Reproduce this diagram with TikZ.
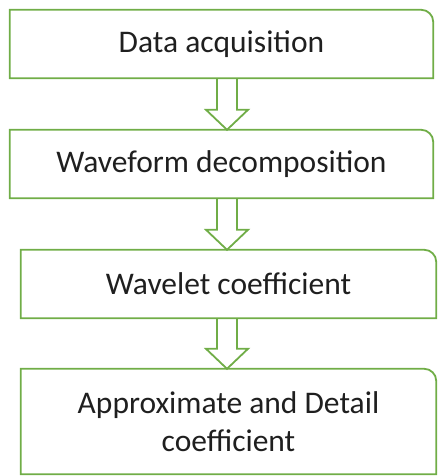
\documentclass[tikz,border=0pt]{standalone}
\usepackage{fontspec}
\setmainfont{Carlito}
\usetikzlibrary{calc}
\definecolor{flowgreen}{HTML}{70AD47}
\definecolor{flowtext}{HTML}{1F1F1F}
\tikzset{
  stepbox/.style={draw=none, inner sep=0pt, align=center, text=flowtext,
    font=\fontsize{31.5}{38}\selectfont},
  outline/.style={draw=flowgreen, line width=1.8pt, line join=miter},
}
% outline of a box with only its upper right corner rounded
\newcommand{\flowoutline}[1]{%
  \draw[outline] (#1.south west) -- (#1.north west)
    -- ([xshift=-12pt]#1.north east) arc[start angle=90, end angle=0, radius=12pt]
    -- (#1.south east) -- cycle;}
% hollow block arrow from the bottom of #1 down to the top of #2
\newcommand{\flowarrow}[2]{%
  \draw[outline] let \p1=(#1.south), \p2=(#2.north) in
    (217,\y1) -- (217,\y2+20) -- (206,\y2+20) -- (227,\y2)
    -- (248,\y2+20) -- (237,\y2+20) -- (237,\y1);}
\begin{document}
\begin{tikzpicture}[x=1pt, y=1pt]
  \useasboundingbox (0,0) rectangle (437,476);
  \node[stepbox, minimum width=423pt, minimum height=68pt] (acq) at (221.5,432)
    {Data acquisition};
  \node[stepbox, minimum width=423pt, minimum height=68pt] (dec) at (221.5,312)
    {Waveform decomposition};
  \node[stepbox, minimum width=415pt, minimum height=68pt] (wav) at (228.5,192)
    {Wavelet coefficient};
  \node[stepbox, minimum width=415pt, minimum height=105pt] (app) at (228.5,54.5)
    {Approximate and Detail\\coefficient};
  \flowoutline{acq}
  \flowoutline{dec}
  \flowoutline{wav}
  \flowoutline{app}
  \flowarrow{acq}{dec}
  \flowarrow{dec}{wav}
  \flowarrow{wav}{app}
\end{tikzpicture}
\end{document}
